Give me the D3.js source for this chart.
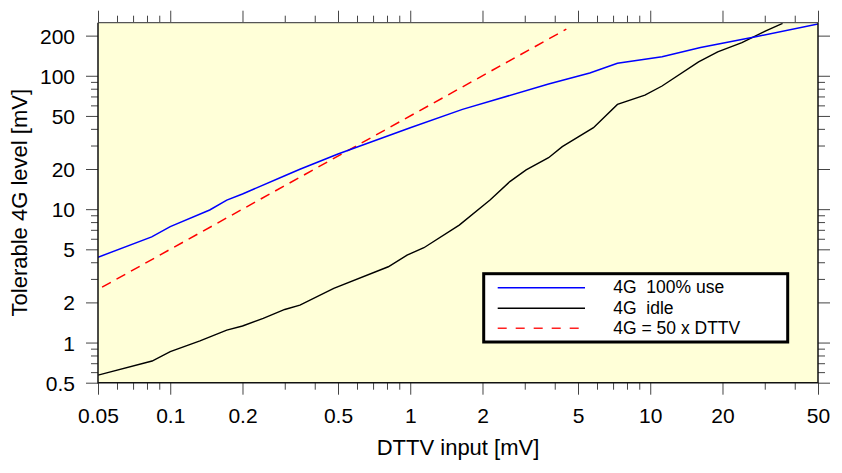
<!DOCTYPE html>
<html>
<head>
<meta charset="utf-8">
<script src="https://cdn.jsdelivr.net/npm/d3@7"></script>
<style>
  html, body { margin: 0; padding: 0; background: #ffffff; }
  svg { display: block; font-family: "Liberation Sans", Arial, Helvetica, sans-serif; }
</style>
</head>
<body>
<svg id="chart" width="842" height="473"></svg>
<script>
// ---- data ----
const xTickValues = [0.05, 0.1, 0.2, 0.5, 1, 2, 5, 10, 20, 50];
const xTickLabels = ["0.05", "0.1", "0.2", "0.5", "1", "2", "5", "10", "20", "50"];
const xMinorTicks = [0.06, 0.07, 0.08, 0.09, 0.3, 0.4, 0.6, 0.7, 0.8, 0.9, 3, 4, 6, 7, 8, 9, 30, 40];
const yTickValues = [0.5, 1, 2, 5, 10, 20, 50, 100, 200];
const yTickLabels = ["0.5", "1", "2", "5", "10", "20", "50", "100", "200"];
const yMinorTicks = [0.6, 0.7, 0.8, 0.9, 3, 4, 6, 7, 8, 9, 30, 40, 60, 70, 80, 90];

const useX  = [0.05, 0.0837, 0.1, 0.146, 0.172, 0.2, 0.3, 0.347, 0.5, 1.0, 1.65, 3.77, 5.6, 7.3, 11.2, 16.2, 27.5, 50];
const useY  = [4.36, 6.2, 7.4, 9.86, 11.7, 13.0, 17.8, 19.9, 25.9, 40.8, 56, 86.7, 105, 124, 139, 163, 196, 244];

const idleX = [0.05, 0.084, 0.1, 0.133, 0.172, 0.2, 0.244, 0.3, 0.347, 0.48, 0.81, 0.97, 1.14, 1.6, 2.15, 2.6, 3.04, 3.77, 4.3, 5.8, 7.3, 9.5, 11.2, 15.9, 19.1, 24.1, 30.3, 35.6];
const idleY = [0.57, 0.727, 0.854, 1.03, 1.24, 1.33, 1.52, 1.77, 1.91, 2.55, 3.7, 4.53, 5.14, 7.6, 11.7, 16.1, 19.7, 24.3, 29.4, 40.8, 61, 71.7, 83.8, 127, 151, 177, 217, 247];

const refX  = [0.052, 4.47];
const refY  = [2.6, 223.5];

const seriesNames = ["4G  100% use", "4G  idle", "4G = 50 x DTTV"];
const seriesColors = ["#0000ff", "#000000", "#ff2020"];

// ---- layout ----
const svg = d3.select("#chart");
const L = 98, R = 818, T = 22.7, B = 382.7;

const x = d3.scaleLog().domain([0.05, 50]).range([L, R]);
const y = d3.scaleLog().domain([0.5, 250]).range([B, T]);

// plot background
svg.append("rect").attr("x", L).attr("y", T).attr("width", R - L).attr("height", B - T)
  .attr("fill", "#ffffd8");

svg.append("clipPath").attr("id", "clip").append("rect")
  .attr("x", L).attr("y", T).attr("width", R - L).attr("height", B - T);

// axes helper
function styleAxis(g) {
  g.select(".domain").remove();
  g.selectAll(".tick line").attr("stroke", "#444").attr("stroke-width", 1);
}

const fmtX = d => xTickLabels[xTickValues.indexOf(d)];
const fmtY = d => yTickLabels[yTickValues.indexOf(d)];

// bottom
const gb = svg.append("g").attr("transform", `translate(0,${B})`)
  .call(d3.axisBottom(x).tickValues(xTickValues).tickFormat(fmtX).tickSize(12).tickSizeOuter(0));
styleAxis(gb);
gb.selectAll(".tick text").attr("y", 40.5).attr("dy", 0).attr("fill", "#000")
  .style("font-size", "21px");
const gbm = svg.append("g").attr("transform", `translate(0,${B})`)
  .call(d3.axisBottom(x).tickValues(xMinorTicks).tickFormat("").tickSize(7).tickSizeOuter(0));
styleAxis(gbm);

// top
const gt = svg.append("g").attr("transform", `translate(0,${T})`)
  .call(d3.axisTop(x).tickValues(xTickValues).tickFormat("").tickSize(12).tickSizeOuter(0));
styleAxis(gt);
const gtm = svg.append("g").attr("transform", `translate(0,${T})`)
  .call(d3.axisTop(x).tickValues(xMinorTicks).tickFormat("").tickSize(7).tickSizeOuter(0));
styleAxis(gtm);

// left
const gl = svg.append("g").attr("transform", `translate(${L},0)`)
  .call(d3.axisLeft(y).tickValues(yTickValues).tickFormat(fmtY).tickSize(12).tickSizeOuter(0));
styleAxis(gl);
gl.selectAll(".tick text").attr("x", -23).attr("dy", "0.36em").attr("fill", "#000")
  .style("font-size", "21px");
const glm = svg.append("g").attr("transform", `translate(${L},0)`)
  .call(d3.axisLeft(y).tickValues(yMinorTicks).tickFormat("").tickSize(7).tickSizeOuter(0));
styleAxis(glm);

// right
const gr = svg.append("g").attr("transform", `translate(${R},0)`)
  .call(d3.axisRight(y).tickValues(yTickValues).tickFormat("").tickSize(12).tickSizeOuter(0));
styleAxis(gr);
const grm = svg.append("g").attr("transform", `translate(${R},0)`)
  .call(d3.axisRight(y).tickValues(yMinorTicks).tickFormat("").tickSize(7).tickSizeOuter(0));
styleAxis(grm);

// lines
const line = d3.line().x(d => x(d[0])).y(d => y(d[1]));
const plot = svg.append("g").attr("clip-path", "url(#clip)");

plot.append("path").datum(d3.zip(refX, refY)).attr("d", line)
  .attr("fill", "none").attr("stroke", "#ff0000").attr("stroke-width", 1.5)
  .attr("stroke-dasharray", "10,6.5");
plot.append("path").datum(d3.zip(idleX, idleY)).attr("d", line)
  .attr("fill", "none").attr("stroke", "#000000").attr("stroke-width", 1.4);
plot.append("path").datum(d3.zip(useX, useY)).attr("d", line)
  .attr("fill", "none").attr("stroke", "#0000ff").attr("stroke-width", 1.5);

// frame
svg.append("path").attr("d", `M${L},${T}H${R}`).attr("stroke", "#555").attr("stroke-width", 1.2);
svg.append("path").attr("d", `M${L},${T}V${B}H${R}V${T}`).attr("fill", "none")
  .attr("stroke", "#111").attr("stroke-width", 1.5);

// axis titles
svg.append("text").attr("x", (L + R) / 2).attr("y", 455).attr("text-anchor", "middle")
  .style("font-size", "22px").attr("fill", "#000").text("DTTV input [mV]");
svg.append("text").attr("transform", `translate(27,${(T + B) / 2}) rotate(-90)`)
  .attr("text-anchor", "middle").style("font-size", "22px").attr("fill", "#000")
  .text("Tolerable 4G level [mV]");

// legend
const lg = svg.append("g");
lg.append("rect").attr("x", 483.7).attr("y", 273.7).attr("width", 304).attr("height", 68.3)
  .attr("fill", "#ffffff").attr("stroke", "#000").attr("stroke-width", 3);
const rowsY = [287.7, 308.3, 328.3];
const dashes = [null, null, "9,9"];
const widths = [1.5, 1.4, 1.5];
seriesNames.forEach((name, i) => {
  lg.append("line").attr("x1", 497.7).attr("x2", 585).attr("y1", rowsY[i]).attr("y2", rowsY[i])
    .attr("stroke", seriesColors[i]).attr("stroke-width", widths[i])
    .attr("stroke-dasharray", dashes[i]);
  lg.append("text").attr("x", 613.3).attr("y", rowsY[i]).attr("dy", "0.3em")
    .style("font-size", "17.5px").style("white-space", "pre").attr("xml:space", "preserve")
    .attr("fill", "#000").text(name);
});
</script>
</body>
</html>
